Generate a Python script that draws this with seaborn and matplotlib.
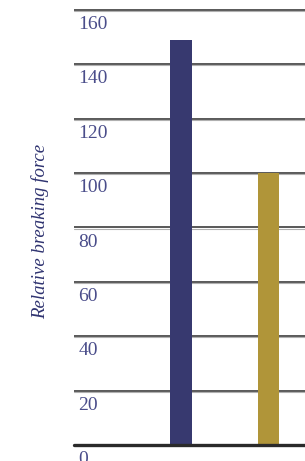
import pandas as pd
import seaborn as sns
import matplotlib.pyplot as plt

# values
groups = ["A", "B"]
force = [149, 100]
bar_colors = ["#37396f", "#b09539"]
tick_values = [0, 20, 40, 60, 80, 100, 120, 140, 160]
tick_labels = ["0", "20", "40", "60", "80", "100", "120", "140", "160"]
ylabel = "Relative breaking force"


def main():
    data = pd.DataFrame({"group": groups, "force": force})
    barplot(data)


def barplot(data):
    """
    draw the two bars with grid lines behind them
    and save the figure as out.png
    """
    sns.set_style("white")
    fig = plt.figure(figsize=(3.05, 4.61), dpi=100)
    ax = fig.add_axes([74 / 305, 16 / 461, 231 / 305, 445 / 461])

    sns.barplot(x="group", y="force", hue="group", data=data,
                palette=bar_colors, width=0.25, saturation=1,
                linewidth=0, legend=False, ax=ax, zorder=3)

    ax.set_xlim(-1.223, 1.417)
    ax.set_ylim(0, 163.6)

    # grid lines with a light shadow under each
    for v in tick_values[1:]:
        ax.axhline(v, color="#3c3c3c", lw=1.2, zorder=1)
        ax.axhline(v - 0.45, color="#b0b0b0", lw=0.8, zorder=1)
    ax.axhline(0, color="#2a2a2a", lw=2.4, zorder=4, clip_on=False)

    # tick labels sit just under their line, left aligned
    for v, lab in zip(tick_values, tick_labels):
        ax.annotate(lab, xy=(0, v), xycoords=("axes fraction", "data"),
                    xytext=(3, -4.5), textcoords="offset points",
                    ha="left", va="top", fontsize=14,
                    family="Liberation Serif", color="#4a4d8a",
                    annotation_clip=False)

    ax.text(-0.147, 0.481, ylabel, transform=ax.transAxes, rotation=90,
            ha="center", va="center", fontsize=13.5, style="italic",
            family="Liberation Serif", color="#2f3370")

    ax.set_xticks([])
    ax.set_yticks([])
    ax.set_xlabel("")
    ax.set_ylabel("")
    sns.despine(ax=ax, left=True, bottom=True)

    fig.savefig("out.png", dpi=100)


if __name__ == '__main__':
    main()
